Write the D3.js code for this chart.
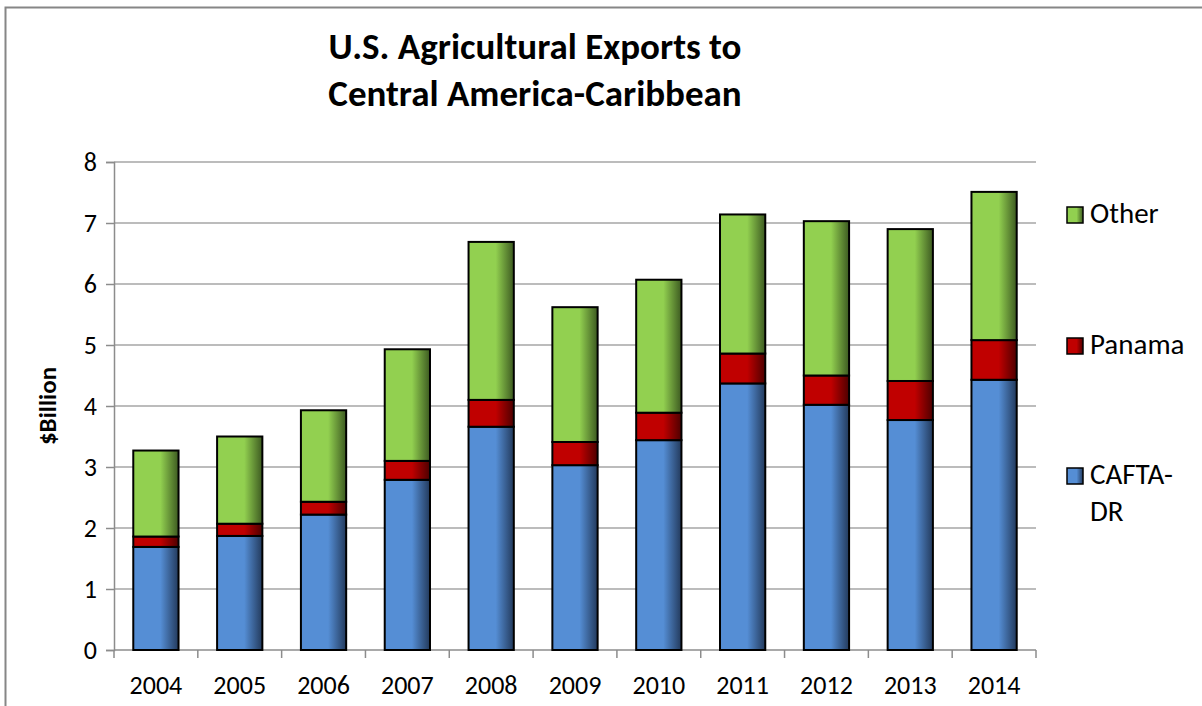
<!DOCTYPE html>
<html>
<head>
<meta charset="utf-8">
<script src="https://cdn.jsdelivr.net/npm/d3@7"></script>
<style>
  html, body { margin: 0; padding: 0; background: #fff; }
  svg { display: block; font-family: Carlito, Lato, "Open Sans", sans-serif; }
</style>
</head>
<body>
<svg id="chart" width="1202" height="706"></svg>
<script>
// Years on the x axis
const years = ["2004","2005","2006","2007","2008","2009","2010","2011","2012","2013","2014"];
// Export values by destination group, $ billion
const cafta  = [1.69, 1.87, 2.22, 2.79, 3.66, 3.03, 3.44, 4.37, 4.02, 3.77, 4.43];
const panama = [0.17, 0.20, 0.21, 0.31, 0.44, 0.38, 0.45, 0.49, 0.48, 0.64, 0.65];
const other  = [1.41, 1.43, 1.50, 1.83, 2.59, 2.21, 2.18, 2.28, 2.53, 2.49, 2.43];
const yTicks = [0, 1, 2, 3, 4, 5, 6, 7, 8];
const seriesNames = ["CAFTA-DR", "Panama", "Other"];

const svg = d3.select("#chart");

// Outer frame
svg.append("rect")
  .attr("x", 5.5).attr("y", 7.5)
  .attr("width", 1220).attr("height", 720)
  .attr("fill", "#fff").attr("stroke", "#868686").attr("stroke-width", 2);

const fills = { "CAFTA-DR": "#558ed5", "Panama": "#c00000", "Other": "#92d050" };
const darks = { "CAFTA-DR": "#233a5c", "Panama": "#4d0000", "Other": "#3d5a21" };

// Horizontal shading on each bar segment
const defs = svg.append("defs");
seriesNames.forEach((s, i) => {
  const g = defs.append("linearGradient").attr("id", "grad" + i)
    .attr("x1", "0").attr("x2", "1").attr("y1", "0").attr("y2", "0");
  g.append("stop").attr("offset", "0").attr("stop-color", fills[s]);
  g.append("stop").attr("offset", "0.6").attr("stop-color", fills[s]);
  g.append("stop").attr("offset", "1").attr("stop-color", darks[s]);
});

const margin = { left: 114, right: 1036, top: 162, bottom: 650 };

const x = d3.scaleBand().domain(years)
  .range([margin.left, margin.right]).paddingInner(0.46).paddingOuter(0.23);
const xOuter = d3.scaleBand().domain(years).range([margin.left, margin.right]);
const y = d3.scaleLinear().domain([0, 8]).range([margin.bottom, margin.top]);

// Gridlines
svg.append("g").selectAll("line").data(yTicks.slice(1)).join("line")
  .attr("x1", margin.left).attr("x2", margin.right)
  .attr("y1", d => y(d)).attr("y2", d => y(d))
  .attr("stroke", "#a6a6a6").attr("stroke-width", 1.5);

// Y axis
const yAxis = svg.append("g").attr("transform", `translate(${margin.left},0)`)
  .call(d3.axisLeft(y).tickValues(yTicks).tickSize(8).tickPadding(9));
yAxis.select(".domain").attr("stroke", "#8c8c8c").attr("stroke-width", 1.5);
yAxis.selectAll(".tick line").attr("stroke", "#8c8c8c").attr("stroke-width", 1.5);
yAxis.selectAll("text").attr("font-size", 26).attr("fill", "#000")
  .attr("font-family", "Carlito, Lato, sans-serif");

// X axis with ticks at category boundaries
const xAxisG = svg.append("g").attr("transform", `translate(0,${margin.bottom})`);
xAxisG.append("line").attr("x1", margin.left).attr("x2", margin.right)
  .attr("y1", 0).attr("y2", 0).attr("stroke", "#8c8c8c").attr("stroke-width", 1.5);
const boundaries = years.map(d => xOuter(d)).concat([margin.right]);
xAxisG.selectAll("line.tk").data(boundaries).join("line").attr("class", "tk")
  .attr("x1", d => d).attr("x2", d => d).attr("y1", 0).attr("y2", 8)
  .attr("stroke", "#8c8c8c").attr("stroke-width", 1.5);
xAxisG.selectAll("text").data(years).join("text")
  .attr("x", d => xOuter(d) + xOuter.bandwidth() / 2)
  .attr("y", 44)
  .attr("text-anchor", "middle").attr("font-size", 26).attr("fill", "#000")
  .text(d => d);

// Stacked bars
const rows = years.map((yr, i) => ({ year: yr, "CAFTA-DR": cafta[i], "Panama": panama[i], "Other": other[i] }));
const stacked = d3.stack().keys(seriesNames)(rows);

svg.append("g").selectAll("g").data(stacked).join("g")
  .attr("fill", (d, i) => `url(#grad${i})`)
  .selectAll("rect").data(d => d).join("rect")
  .attr("x", d => x(d.data.year))
  .attr("width", x.bandwidth())
  .attr("y", d => y(d[1]))
  .attr("height", d => y(d[0]) - y(d[1]))
  .attr("stroke", "#000").attr("stroke-width", 2);

// Title
const title = svg.append("text").attr("text-anchor", "middle")
  .attr("font-size", 37).attr("font-weight", "bold").attr("fill", "#000");
title.append("tspan").attr("x", 535).attr("y", 59).text("U.S. Agricultural Exports to");
title.append("tspan").attr("x", 535).attr("y", 106).text("Central America-Caribbean");

// Y axis title
svg.append("text")
  .attr("transform", `translate(56,${y(4)}) rotate(-90)`)
  .attr("text-anchor", "middle").attr("font-size", 25).attr("font-weight", "bold")
  .text("$Billion");

// Legend
const legendItems = [
  { name: "Other", lines: ["Other"], y: 215 },
  { name: "Panama", lines: ["Panama"], y: 346 },
  { name: "CAFTA-DR", lines: ["CAFTA-", "DR"], y: 476 }
];
const legend = svg.append("g");
legendItems.forEach(it => {
  const i = seriesNames.indexOf(it.name);
  legend.append("rect").attr("x", 1067).attr("y", it.y - 8)
    .attr("width", 16).attr("height", 16)
    .attr("fill", `url(#grad${i})`).attr("stroke", "#000").attr("stroke-width", 1.5);
  const t = legend.append("text").attr("font-size", 29).attr("fill", "#000");
  it.lines.forEach((ln, k) => {
    t.append("tspan").attr("x", 1090).attr("y", it.y + 8 + k * 37).text(ln);
  });
});
</script>
</body>
</html>
